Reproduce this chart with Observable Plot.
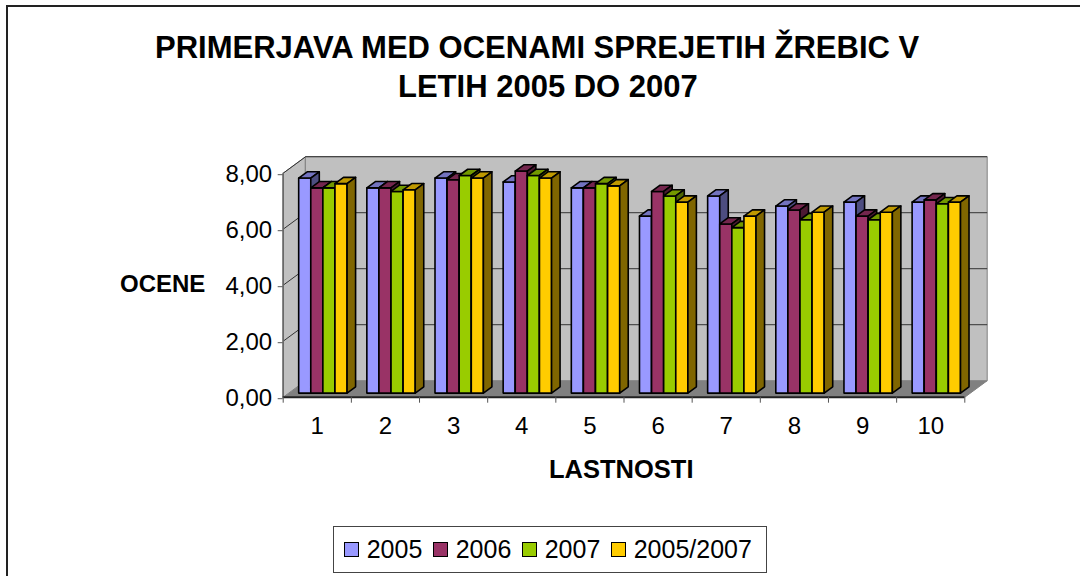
<!DOCTYPE html>
<html><head><meta charset="utf-8">
<script src="https://cdn.jsdelivr.net/npm/d3@7"></script>
<script src="https://cdn.jsdelivr.net/npm/@observablehq/plot@0.6"></script>
<style>
html,body{margin:0;padding:0;overflow:hidden;background:#fff;}
#wrap{position:relative;width:1080px;height:576px;overflow:hidden;font-family:"Liberation Sans",Arial,sans-serif;color:#000;}
#frame{position:absolute;left:6px;top:5px;width:1200px;height:800px;border:2px solid #222;box-sizing:border-box;}
#chart{position:absolute;left:0;top:0;}
.title{position:absolute;white-space:nowrap;font-weight:bold;font-size:31px;line-height:31px;transform-origin:center center;}
.alab{position:absolute;white-space:nowrap;font-weight:bold;line-height:1;}
#legend{position:absolute;left:333px;top:526px;width:434px;height:47px;box-sizing:border-box;border:1px solid #444;display:flex;align-items:center;padding-left:10px;font-size:25px;}
#legend .sq{width:15px;height:15px;box-sizing:border-box;border:1.5px solid #000;margin-right:7.7px;}
#legend .it{display:flex;align-items:center;margin-right:10.7px;}
</style></head><body>
<div id="wrap">
  <div id="frame"></div>
  <div id="chart"></div>
  <div class="title" id="t1">PRIMERJAVA MED OCENAMI SPREJETIH ŽREBIC V</div>
  <div class="title" id="t2">LETIH 2005 DO 2007</div>
  <div class="alab" id="ylab" style="left:120px;top:272px;font-size:24px;">OCENE</div>
  <div class="alab" id="xlab" style="left:549px;top:457px;font-size:25.5px;">LASTNOSTI</div>
  <div id="legend"></div>
</div>
<script>
// ---- data ----
const categories = ["1","2","3","4","5","6","7","8","9","10"];
const seriesNames = ["2005","2006","2007","2005/2007"];
const values2005 = [7.68, 7.33, 7.68, 7.54, 7.33, 6.32, 7.04, 6.68, 6.82, 6.82];
const values2006 = [7.33, 7.33, 7.62, 7.93, 7.33, 7.20, 6.04, 6.54, 6.32, 6.90];
const values2007 = [7.33, 7.20, 7.77, 7.77, 7.48, 7.04, 5.91, 6.19, 6.19, 6.76];
const values0507 = [7.48, 7.26, 7.68, 7.68, 7.40, 6.82, 6.32, 6.46, 6.46, 6.82];
const yTicks = [0, 2, 4, 6, 8];

// ---- styles ----
const frontColors = ["#9999FF", "#993366", "#99CC00", "#FFCC00"];
const topColors   = ["#7373BF", "#73264D", "#739900", "#BF9900"];
const sideColors  = ["#4D4D80", "#4D1A33", "#4D6600", "#806600"];
const seriesValues = [values2005, values2006, values2007, values0507];

// 3D projection in data units (depth maps to a shift in x and y)
const Dx = 0.3286, Dy = 0.589;
const z0 = 0.25, z1 = 0.63, barW = 0.1775, groupHalf = 0.355;
const xMin = 0.5, xMax = categories.length + 0.5, yMax = 8;
const P = (x, y, z) => ({x: x + z * Dx, y: y + z * Dy});

const walls = [];
let pid = 0;
function addPoly(arr, pts, fill) {
  const id = pid++;
  pts.forEach(p => arr.push({id, x: p.x, y: p.y, fill}));
}
addPoly(walls, [P(xMin,0,0), P(xMax,0,0), P(xMax,0,1), P(xMin,0,1)], "#808080");
addPoly(walls, [P(xMin,0,0), P(xMin,0,1), P(xMin,yMax,1), P(xMin,yMax,0)], "#C0C0C0");
addPoly(walls, [P(xMin,0,1), P(xMax,0,1), P(xMax,yMax,1), P(xMin,yMax,1)], "#C0C0C0");

const grid = [];
yTicks.filter(v => v > 0).forEach(v => {
  const a = P(xMin, v, 1), b = P(xMax, v, 1), c = P(xMin, v, 0);
  grid.push({x1: a.x, y1: a.y, x2: b.x, y2: b.y});
  grid.push({x1: c.x, y1: c.y, x2: a.x, y2: a.y});
});

const bars = [];
categories.forEach((c, i) => {
  const cx = i + 1;
  seriesValues.forEach((vals, j) => {
    const v = vals[i];
    const xl = cx - groupHalf + j * barW, xr = xl + barW;
    addPoly(bars, [P(xl,0,z0), P(xr,0,z0), P(xr,v,z0), P(xl,v,z0)], frontColors[j]);
    addPoly(bars, [P(xl,v,z0), P(xr,v,z0), P(xr,v,z1), P(xl,v,z1)], topColors[j]);
    addPoly(bars, [P(xr,0,z0), P(xr,0,z1), P(xr,v,z1), P(xr,v,z0)], sideColors[j]);
  });
});

const fmt = d => d3.format(".2f")(d).replace(".", ",");

const chart = Plot.plot({
  width: 1080,
  height: 576,
  marginLeft: 282.7,
  marginRight: 115.7,
  marginTop: 172.7,
  marginBottom: 179.3,
  x: {domain: [xMin, xMax]},
  y: {domain: [0, yMax]},
  color: {type: "identity"},
  style: {fontFamily: "'Liberation Sans', Arial, sans-serif", background: "transparent", color: "#000", overflow: "visible"},
  marks: [
    Plot.line(walls, {x: "x", y: "y", z: "id", fill: "fill", stroke: "#808080", strokeWidth: 1, curve: "linear-closed"}),
    Plot.link(grid, {x1: "x1", y1: "y1", x2: "x2", y2: "y2", stroke: "#333", strokeWidth: 1}),
    Plot.line(bars, {x: "x", y: "y", z: "id", fill: "fill", stroke: "#000", strokeWidth: 1.6, strokeLinejoin: "round", curve: "linear-closed"}),
    Plot.ruleX([xMin], {y1: 0, y2: yMax, stroke: "#666", strokeWidth: 1.5}),
    Plot.ruleY([0], {x1: xMin, x2: xMax, stroke: "#222", strokeWidth: 2}),
    Plot.axisY({ticks: yTicks, tickFormat: fmt, tickSize: 5, tickPadding: 6, fontSize: 24, dy: 1.5, label: null, stroke: "#555"}),
    Plot.axisX({ticks: d3.range(1, categories.length + 1), tickFormat: d => categories[d - 1], tickSize: 0, tickPadding: 20, fontSize: 24, label: null}),
    Plot.axisX({ticks: d3.range(xMin, xMax + 0.01, 1), tickFormat: () => "", tickSize: 6, label: null, stroke: "#555"})
  ]
});
document.getElementById("chart").appendChild(chart);

// legend
const legend = document.getElementById("legend");
seriesNames.forEach((name, j) => {
  const it = document.createElement("div");
  it.className = "it";
  const sq = document.createElement("div");
  sq.className = "sq";
  sq.style.background = frontColors[j];
  const tx = document.createElement("span");
  tx.textContent = name;
  it.appendChild(sq); it.appendChild(tx);
  legend.appendChild(it);
});

// title fitting
function fit(id, targetW, centerX, top) {
  const el = document.getElementById(id);
  const w = el.getBoundingClientRect().width;
  const s = targetW / w;
  el.style.left = (centerX - w / 2) + "px";
  el.style.top = top + "px";
  el.style.transform = "scaleX(" + s + ")";
}
function layout() {
  fit("t1", 792, 551, 32);
  fit("t2", 308, 552, 70.5);
}
layout();
if (document.fonts && document.fonts.ready) document.fonts.ready.then(layout);
</script>
</body></html>
